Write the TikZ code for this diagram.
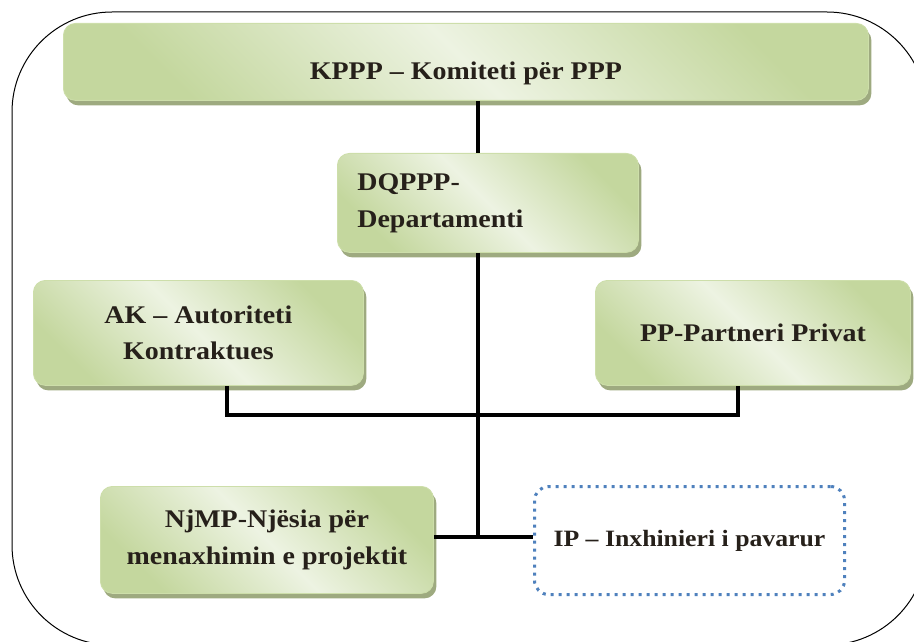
\documentclass[tikz,border=0pt]{standalone}
\usepackage{fontspec}
\setmainfont[FakeStretch=1.1]{Liberation Serif}
\usetikzlibrary{shadows,positioning}
\definecolor{boxdark}{RGB}{196,215,158}
\definecolor{boxlight}{RGB}{237,243,226}
\definecolor{boxedge}{RGB}{205,222,170}
\definecolor{shadowgreen}{RGB}{158,170,128}
\definecolor{ipblue}{RGB}{79,129,189}
\definecolor{textdark}{RGB}{38,32,26}

\begin{document}
\begin{tikzpicture}[
    x=1bp, y=-1bp,
    font=\fontsize{25.5}{37}\selectfont\bfseries,
    unit/.style={rectangle, draw=boxedge, line width=0.8bp, rounded corners=12bp, inner sep=0pt, text=textdark,
        left color=boxdark, right color=boxdark, middle color=boxlight, shading angle=135,
        drop shadow={shadow xshift=3bp, shadow yshift=-5bp, fill=shadowgreen, opacity=1}},
    advisor/.style={rectangle, draw=ipblue, line width=3bp, dash pattern=on 3bp off 5bp, rounded corners=14bp, inner sep=0pt, text=textdark, fill=white},
    link/.style={draw=black, line width=3.2bp},
    frame/.style={draw=black, line width=1bp, rounded corners=100bp}
]
\useasboundingbox (0,0) rectangle (914,642);
\clip (0,0) rectangle (914,642);

% === FRAME ===
\draw[frame] (12,12) rectangle (927,645);

% === BOXES ===
\node[unit, anchor=north west, minimum width=805bp, text height=56bp, text depth=21bp] (kppp) at (63,23) {KPPP -- Komiteti për PPP};
\node[unit, anchor=north west, minimum width=301bp, minimum height=99bp, inner xsep=20bp, text width=261bp, align=left] (dqppp) at (337,153) {DQPPP-\\Departamenti};
\node[unit, anchor=north west, minimum width=330bp, minimum height=105bp, align=center] (ak) at (33,280) {AK -- Autoriteti\\Kontraktues};
\node[unit, anchor=north west, minimum width=315bp, minimum height=105bp] (pp) at (595,280) {PP-Partneri Privat};
\node[unit, anchor=north west, minimum width=333bp, minimum height=107bp, align=center] (njmp) at (100,486) {NjMP-Njësia për\\menaxhimin e projektit};
\node[advisor, anchor=north west, minimum width=310bp, minimum height=108bp, font=\fontsize{23.5}{30}\selectfont\bfseries] (ip) at (533,485) {IP -- Inxhinieri i pavarur};

% === CONNECTIONS ===
\coordinate (trunk) at (478,415);
\coordinate (hub) at (478,537);
\coordinate (akleg) at (227,415);
\coordinate (ppleg) at (738,415);

\draw[link] (kppp.south -| trunk) -- (dqppp.north -| trunk);
\draw[link] (dqppp.south -| trunk) -- (hub);
\draw[link] (ak.south -| akleg) -- (akleg) -- (ppleg) -- (pp.south -| ppleg);
\draw[link] (njmp.east |- hub) -- (ip.west |- hub);

\end{tikzpicture}
\end{document}
